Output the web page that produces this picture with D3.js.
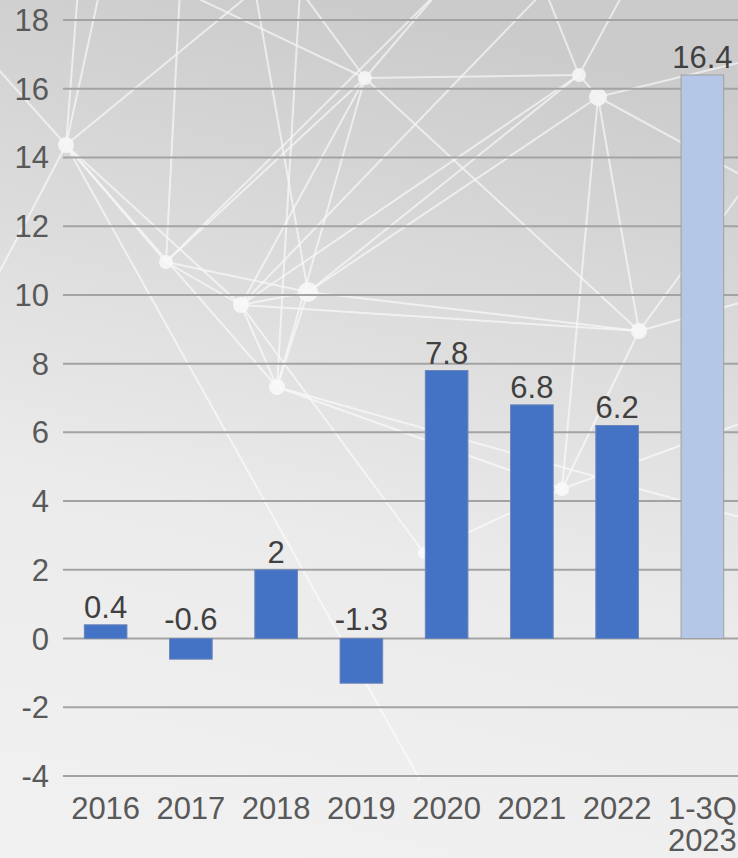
<!DOCTYPE html>
<html>
<head>
<meta charset="utf-8">
<script src="https://cdn.jsdelivr.net/npm/d3@7"></script>
<style>
  html, body { margin: 0; padding: 0; background: #eeeeee; overflow: hidden; }
  svg { display: block; }
</style>
</head>
<body>
<svg id="chart" width="738" height="858"></svg>
<script>
// ---- Data ----
const categories = ["2016", "2017", "2018", "2019", "2020", "2021", "2022", "1-3Q 2023"];
const values = [0.4, -0.6, 2, -1.3, 7.8, 6.8, 6.2, 16.4];
const valueLabels = ["0.4", "-0.6", "2", "-1.3", "7.8", "6.8", "6.2", "16.4"];
const yTicks = [-4, -2, 0, 2, 4, 6, 8, 10, 12, 14, 16, 18];
const highlighted = ["1-3Q 2023"];

// ---- Decorative background network (not data) ----
const decoNodes = [
  {id: "A", x: 66, y: 145, r: 8}, {id: "B", x: 365, y: 78, r: 7},
  {id: "C", x: 579, y: 75, r: 7}, {id: "D", x: 598, y: 97, r: 9},
  {id: "E", x: 166, y: 262, r: 7}, {id: "F", x: 241, y: 305, r: 8},
  {id: "G", x: 308, y: 292, r: 10}, {id: "H", x: 277, y: 387, r: 8},
  {id: "I", x: 639, y: 331, r: 8}, {id: "J", x: 562, y: 489, r: 7},
  {id: "K", x: 424, y: 553, r: 6}
];
const decoOff = {
  P1: [78, -10], P2: [100, -10], P3: [255, -10], P4: [180, -10], P5: [300, -10],
  P6: [545, -10], P7: [625, -10], P8: [750, 60], P9: [750, 300], P10: [750, 420],
  P11: [-10, 290], P12: [750, 180], P13: [440, -10], P14: [-10, 60], P15: [750, 520],
  P16: [420, 780]
};
const decoEdges = [
  ["A","P1"],["A","P2"],["A","P3"],["A","E"],["A","F"],["A","H"],["A","P11"],["A","P14"],
  ["B","E"],["B","F"],["B","H"],["B","I"],["B","P4"],["B","P5"],["B","C"],["B","P13"],
  ["C","F"],["C","P6"],["C","P7"],["C","D"],["D","G"],["D","J"],["D","I"],["D","P8"],
  ["E","F"],["E","G"],["E","P4"],["F","H"],["F","G"],["F","I"],["G","P3"],["G","C"],
  ["H","G"],["H","J"],["H","P5"],["I","P9"],["I","J"],["I","P12"],["J","P10"],["J","K"],
  ["K","F"],["G","I"],["E","P13"],["H","P15"],["D","P12"],["F","P6"],["A","P16"]
];

// ---- Layout ----
const W = 738, H = 858;
const FONT = "Liberation Sans, Arial, sans-serif";
const FS = 31;
const svg = d3.select("#chart");
const x = d3.scaleBand().domain(categories).range([63, 745]).paddingInner(0.5).paddingOuter(0.25);
const y = d3.scaleLinear().domain([-4, 18]).range([776, 20]);

// background gradient
const defs = svg.append("defs");
const grad = defs.append("linearGradient").attr("id", "bg")
  .attr("x1", "0.5").attr("y1", "0").attr("x2", "0.3").attr("y2", "1");
grad.append("stop").attr("offset", "0%").attr("stop-color", "#cbcbcb");
grad.append("stop").attr("offset", "35%").attr("stop-color", "#dddddd");
grad.append("stop").attr("offset", "62%").attr("stop-color", "#ebebeb");
grad.append("stop").attr("offset", "100%").attr("stop-color", "#f1f1f1");
svg.append("rect").attr("width", W).attr("height", H).attr("fill", "url(#bg)");

// decorative network
const nodeById = {};
decoNodes.forEach(n => nodeById[n.id] = [n.x, n.y]);
const pt = k => nodeById[k] || decoOff[k];
const deco = svg.append("g").attr("opacity", 0.8);
deco.selectAll("line").data(decoEdges).join("line")
  .attr("x1", d => pt(d[0])[0]).attr("y1", d => pt(d[0])[1])
  .attr("x2", d => pt(d[1])[0]).attr("y2", d => pt(d[1])[1])
  .attr("stroke", "#ffffff").attr("stroke-width", 2).attr("stroke-opacity", 0.75);
deco.selectAll("circle").data(decoNodes).join("circle")
  .attr("cx", d => d.x).attr("cy", d => d.y).attr("r", d => d.r)
  .attr("fill", "#ffffff").attr("opacity", 0.9);

// gridlines
svg.append("g").selectAll("line").data(yTicks).join("line")
  .attr("x1", 63).attr("x2", W)
  .attr("y1", d => y(d)).attr("y2", d => y(d))
  .attr("stroke", "#a3a3a3").attr("stroke-width", 2);

// y-axis labels
svg.append("g").selectAll("text").data(yTicks).join("text")
  .attr("x", 49).attr("y", d => y(d) + 11)
  .attr("text-anchor", "end")
  .attr("font-family", FONT)
  .attr("font-size", FS).attr("fill", "#595959")
  .text(d => d);

// bars
svg.append("g").selectAll("rect").data(categories).join("rect")
  .attr("x", d => x(d))
  .attr("width", x.bandwidth())
  .attr("y", (d, i) => y(Math.max(0, values[i])))
  .attr("height", (d, i) => Math.abs(y(values[i]) - y(0)))
  .attr("fill", d => highlighted.includes(d) ? "#b4c7e7" : "#4472c4")
  .attr("stroke", d => highlighted.includes(d) ? "#a0a0a0" : "#6d86b8")
  .attr("stroke-width", 1);

// value labels
svg.append("g").selectAll("text").data(categories).join("text")
  .attr("x", d => x(d) + x.bandwidth() / 2)
  .attr("y", (d, i) => values[i] >= 0 ? y(values[i]) - 7 : y(0) - 9)
  .attr("text-anchor", "middle")
  .attr("font-family", FONT)
  .attr("font-size", FS).attr("fill", "#404040")
  .text((d, i) => valueLabels[i]);

// x-axis labels (wrap "1-3Q 2023")
const xl = svg.append("g").selectAll("text").data(categories).join("text")
  .attr("x", d => x(d) + x.bandwidth() / 2)
  .attr("y", 819)
  .attr("text-anchor", "middle")
  .attr("font-family", FONT)
  .attr("font-size", FS).attr("fill", "#595959");
xl.each(function(d) {
  const parts = d.split(" ");
  const t = d3.select(this);
  parts.forEach((p, j) => {
    t.append("tspan").attr("x", x(d) + x.bandwidth() / 2).attr("dy", j === 0 ? 0 : 32).text(p);
  });
});
</script>
</body>
</html>
